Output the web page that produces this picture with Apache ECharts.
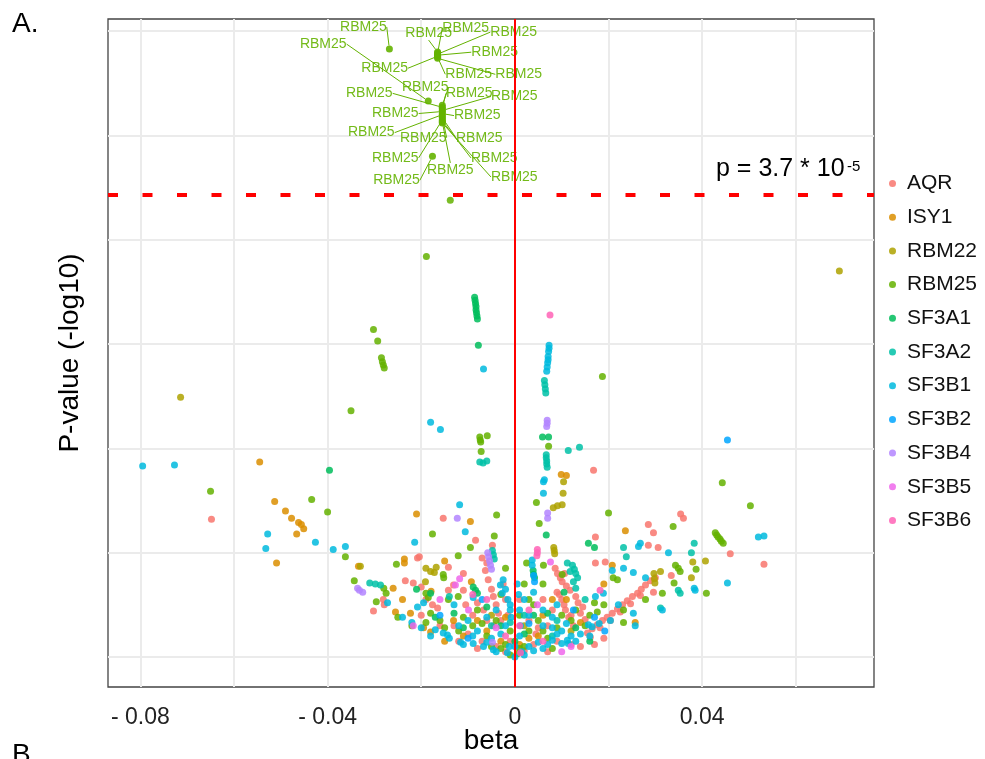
<!DOCTYPE html>
<html><head><meta charset="utf-8">
<script src="https://cdn.jsdelivr.net/npm/echarts@6/dist/echarts.min.js"></script>
<style>html,body{margin:0;padding:0;background:#fff}#chart{width:985px;height:759px}</style>
</head><body><div id="chart"></div>
<script>
// ---------- data ----------
const genes = ['AQR','ISY1','RBM22','RBM25','SF3A1','SF3A2','SF3B1','SF3B2','SF3B4','SF3B5','SF3B6'];
const xGridValues = [-0.08,-0.06,-0.04,-0.02,0,0.02,0.04,0.06];
const xTickValues = [-0.08,-0.04,0,0.04];
const yGridValues = [0,1,2,3,4,5,6];
const thresholdP = 3.7e-5;

const AQR = [[-0.0648,1.32],[0.0168,1.79],[0.0354,1.37],[0.0360,1.33],[0.0460,0.99],[0.0532,0.89],[0.0334,0.78],[0.0285,1.27],[0.0296,1.19],[0.0285,1.07],[0.0306,1.05],[0.0172,1.15],
[-0.0153,1.33],[-0.0084,1.12],[-0.0048,1.07],[-0.0208,0.95],[-0.0204,0.96],[-0.0142,0.86],[-0.0234,0.73],[-0.0217,0.71],[-0.0200,0.67],[-0.0302,0.44],[-0.0281,0.55],[-0.0279,0.50],[-0.0142,0.64],[-0.0131,0.69],[-0.0110,0.64],
[-0.0063,0.83],[-0.0057,0.74],[-0.0050,0.65],[-0.0046,0.58],[-0.0040,0.50],[-0.0035,0.42],[-0.0030,0.35],[-0.0067,0.45],[-0.0080,0.52],[-0.0090,0.40],
[-0.0190,0.55],[-0.0176,0.50],[-0.0165,0.47],
[0.0086,0.85],[0.0091,0.80],[0.0097,0.76],[0.0101,0.72],[0.0172,0.90],[0.0193,0.91],
[0.0155,0.23],[0.0165,0.27],[0.0176,0.31],[0.0187,0.35],[0.0197,0.38],[0.0208,0.42],[0.0219,0.46],[0.0230,0.50],[0.0240,0.54],[0.0251,0.58],[0.0262,0.61],[0.0270,0.65],[0.0279,0.69],[0.0289,0.73],[0.0300,0.76],
[0.0161,0.19],[0.0182,0.28],[0.0204,0.35],[0.0225,0.43],[0.0247,0.51],[0.0268,0.59],[0.0296,0.62],
[0.0060,0.55],[0.0080,0.45],[0.0105,0.50],[0.0120,0.40],[0.0070,0.30],[0.0045,0.22],[0.0090,0.62],[0.0110,0.68],[0.0130,0.58],[0.0145,0.48],
[-0.0130,0.30],[-0.0100,0.22],[-0.0070,0.15],[-0.0040,0.10],[-0.0020,0.05],[0.0020,0.06],[0.0040,0.12],
[0.0106,0.80],[0.0118,0.64],[0.0095,0.60],[0.0100,0.55],[0.0108,0.45],[0.0115,0.38],[0.0125,0.30],[0.0135,0.52],[0.0140,0.42],[0.0150,0.36],
[-0.0070,0.95],[-0.0060,0.90],[-0.0025,0.70],[-0.0020,0.55],[-0.0015,0.40],[-0.0045,0.30],[-0.0110,0.80],[-0.0105,0.50],
[-0.0160,0.30],[-0.0120,0.15],[-0.0080,0.08],[-0.0060,0.35],[-0.0010,0.15],[0.0010,0.55],[0.0030,0.35],[0.0050,0.28],[0.0070,0.05],[0.0090,0.15],[0.0120,0.12],[0.0140,0.10],[0.0170,0.12],[0.0190,0.18],[-0.0200,0.40]];

const ISY1 = [[-0.0545,1.87],[-0.0513,1.49],[-0.0490,1.40],[-0.0477,1.33],[-0.0462,1.29],[-0.0456,1.27],[-0.0451,1.23],[-0.0466,1.18],[-0.0509,0.90],[-0.0334,0.87],
[-0.0210,1.37],[-0.0095,1.30],[-0.0236,0.94],[-0.0236,0.90],[-0.0150,0.92],[-0.0255,0.43],[-0.0223,0.42],[-0.0195,0.28],[-0.0180,0.24],[-0.0093,0.72],[-0.0260,0.66],
[0.0236,1.21],[0.0208,0.88],[0.0257,0.33],[0.0099,1.75],[0.0110,1.74],
[-0.0131,0.35],[-0.0110,0.20],[-0.0060,0.25],[-0.0030,0.15],[0.0030,0.18],[0.0060,0.40],[0.0140,0.33],[0.0190,0.70],[-0.0179,0.63],
[-0.0150,0.15],[-0.0080,0.35],[-0.0020,0.38],[0.0010,0.12],[0.0050,0.20],[0.0080,0.55],[0.0110,0.55],[-0.0240,0.55]];

const RBM22 = [[0.0693,3.70],[-0.0714,2.49],[-0.0330,0.87],[-0.0190,0.85],[-0.0180,0.82],[-0.0168,0.86],[-0.0172,0.81],[-0.0191,0.72],[0.0104,1.68],[0.0103,1.57],[0.0082,1.43],[0.0091,1.45],[0.0101,1.46],[0.0083,1.05],[0.0084,1.02],[0.0085,0.99],[0.0297,0.80],[0.0298,0.75],[0.0299,0.71],[0.0380,0.91],[0.0407,0.92],[0.0377,0.76],[0.0311,0.82],[-0.0050,0.40],[0.0020,0.30],[0.0120,0.25]];

const RBM25 = [[-0.0138,4.38],[-0.0189,3.84],[-0.0302,3.14],[-0.0293,3.03],[-0.0285,2.87],[-0.0283,2.83],[-0.0281,2.80],[-0.0279,2.77],[-0.0350,2.36],
[-0.0075,2.11],[-0.0074,2.08],[-0.0073,2.06],[-0.0059,2.12],[-0.0072,1.97],[0.0072,2.02],[0.0187,2.69],
[-0.0650,1.59],[-0.0434,1.51],[-0.0400,1.39],[-0.0362,0.96],[-0.0343,0.73],
[-0.0039,1.36],[-0.0176,1.18],[-0.0044,1.16],[-0.0095,1.05],[-0.0121,0.97],[-0.0253,0.89],[-0.0153,0.79],[-0.0152,0.76],[-0.0280,0.66],[-0.0275,0.61],[-0.0190,0.61],[-0.0185,0.57],[-0.0296,0.53],[-0.0142,0.55],[-0.0121,0.58],
[0.0046,1.48],[0.0052,1.28],[0.0200,1.38],[0.0338,1.25],[0.0443,1.67],[0.0503,1.45],
[0.0428,1.19],[0.0431,1.17],[0.0434,1.15],[0.0438,1.13],[0.0441,1.11],[0.0445,1.09],
[0.0343,0.88],[0.0349,0.85],[0.0353,0.82],[0.0387,0.84],[0.0340,0.71],[0.0409,0.61],[0.0315,0.61],
[0.0061,0.88],[0.0101,0.79],[0.0210,0.76],[0.0219,0.74],[0.0279,0.55],[0.0232,0.45],[0.0232,0.33],[0.0176,0.43],
[-0.0220,0.30],[-0.0190,0.33],[-0.0160,0.35],[-0.0120,0.25],[-0.0090,0.30],[-0.0060,0.20],[-0.0040,0.35],[-0.0020,0.12],[0.0010,0.08],[0.0030,0.25],[0.0050,0.35],[0.0070,0.18],[0.0090,0.28],[0.0120,0.35],[0.0150,0.30],[0.0170,0.52],[0.0040,0.50],[-0.0080,0.45],[-0.0250,0.38],[-0.0030,0.60],[0.0020,0.70],[0.0060,0.70],
[-0.0010,0.02],[0.0005,0.03],[0.0020,0.10],[-0.0030,0.08],
[-0.0180,0.42],[-0.0150,0.28],[-0.0110,0.38],[-0.0070,0.32],[-0.0050,0.10],[-0.0010,0.25],[0.0010,0.40],[0.0030,0.55],[0.0060,0.25],[0.0080,0.08],[0.0100,0.40],[0.0130,0.45],[0.0160,0.40],[0.0190,0.50],[-0.0020,0.85],[0.0025,0.90]];

// RBM25 points above the significance line (labelled)
const RBM25sig = [[-0.0268,5.83],
[-0.0165,5.80],[-0.0165,5.79],[-0.0165,5.78],[-0.0165,5.77],[-0.0165,5.76],[-0.0165,5.75],[-0.0165,5.74],
[-0.0185,5.33],
[-0.0155,5.29],[-0.0155,5.27],[-0.0155,5.26],[-0.0155,5.24],[-0.0155,5.23],[-0.0155,5.21],[-0.0155,5.20],[-0.0155,5.18],[-0.0155,5.17],[-0.0155,5.15],[-0.0155,5.14],[-0.0155,5.13],[-0.0155,5.12],
[-0.0176,4.80]];

const SF3A1 = [[-0.0086,3.45],[-0.0085,3.42],[-0.0084,3.39],[-0.0083,3.36],[-0.0083,3.33],[-0.0082,3.30],[-0.0081,3.27],[-0.0080,3.24],
[-0.0078,2.99],[0.0059,2.11],[0.0072,2.11],[-0.0396,1.79],[0.0067,1.17],[0.0157,1.09],[0.0170,1.05],[-0.0180,0.61],[-0.0089,0.67],[-0.0084,0.64],[-0.0080,0.61],[0.0039,0.83],[0.0040,0.79],[0.0042,0.76],
[-0.0030,0.30],[0.0000,0.15],[0.0040,0.40],[0.0105,0.62],[-0.0130,0.42],[0.0160,0.15],
[-0.0170,0.38],[-0.0110,0.28],[-0.0060,0.48],[0.0020,0.22],[0.0070,0.42],[0.0130,0.28],[-0.0210,0.65]];

const SF3A2 = [[-0.0075,1.87],[-0.0068,1.86],[-0.0060,1.88],
[0.0067,1.94],[0.0067,1.91],[0.0068,1.88],[0.0068,1.85],[0.0069,1.82],
[0.0063,2.65],[0.0064,2.61],[0.0065,2.57],[0.0066,2.53],
[0.0114,1.98],[0.0138,2.01],[0.0383,1.09],[0.0377,1.00],[0.0349,0.64],[0.0353,0.61],[0.0232,1.05],[0.0238,0.96],
[-0.0310,0.71],[-0.0298,0.70],[-0.0287,0.69],[-0.0048,1.02],[-0.0046,0.98],[-0.0044,0.94],
[0.0123,0.88],[0.0127,0.84],[0.0130,0.80],[0.0134,0.76],[0.0311,0.47],
[0.0112,0.90],[0.0118,0.82],[0.0125,0.72],[0.0130,0.66],[0.0020,0.40],[-0.0050,0.30],[0.0080,0.20],
[-0.0140,0.58],[-0.0010,0.33],[0.0090,0.35],[0.0150,0.55]];

const SF3B1 = [[-0.0795,1.83],[-0.0727,1.84],[-0.0180,2.25],[-0.0159,2.18],[-0.0067,2.76],
[0.0073,2.99],[0.0073,2.96],[0.0072,2.93],[0.0071,2.88],[0.0071,2.85],[0.0070,2.82],[0.0069,2.78],[0.0068,2.74],
[0.0063,1.70],[0.0061,1.68],[0.0061,1.57],
[-0.0528,1.18],[-0.0532,1.04],[-0.0426,1.10],[-0.0388,1.03],[-0.0362,1.06],
[-0.0118,1.46],[-0.0106,1.20],[-0.0214,1.10],[-0.0272,0.52],[-0.0240,0.38],[-0.0208,0.48],[-0.0195,0.52],
[0.0520,1.15],[0.0532,1.16],[0.0328,1.00],[0.0454,0.71],[0.0383,0.66],[0.0385,0.64],[0.0268,1.09],[0.0264,1.06],[0.0315,0.45],
[0.0208,0.83],[0.0232,0.85],[0.0253,0.81],[0.0279,0.76],[0.0221,0.50],[0.0253,0.42],[0.0257,0.30],[0.0204,0.35],[0.0157,0.31],[0.0165,0.29],[0.0189,0.61],[0.0172,0.58],
[0.0037,0.93],[0.0037,0.88],[0.0112,0.16],[0.0114,0.13],[0.0080,0.28],[0.0090,0.22],[-0.0031,0.69],[-0.0027,0.61],[-0.0089,0.57],
[-0.0153,0.23],[-0.0144,0.21],[-0.0116,0.14],[-0.0089,0.13],[-0.0067,0.10],[-0.0046,0.07],[-0.0016,0.04],
[-0.0180,0.20],[-0.0120,0.30],[-0.0080,0.25],[-0.0050,0.18],[-0.0020,0.30],[0.0010,0.20],[0.0030,0.10],[0.0050,0.14],[0.0070,0.12],[0.0100,0.25],[0.0120,0.20],[0.0140,0.22],[-0.0010,0.50],[0.0020,0.55],[-0.0040,0.45],[0.0060,0.45],[0.0040,0.62],[0.0080,0.38],
[-0.0025,0.74],[-0.0020,0.65],[-0.0015,0.55],[-0.0010,0.45],[-0.0008,0.38],[0.0005,0.70],[0.0008,0.60],[0.0010,0.45],[0.0012,0.30],[0.0000,0.00],[0.0015,0.05],[-0.0012,0.10],
[-0.0220,0.33],[-0.0200,0.28],[-0.0170,0.26],[-0.0140,0.18],[-0.0110,0.12],[-0.0090,0.20],[-0.0060,0.14],[-0.0040,0.05],[-0.0030,0.22],[0.0000,0.10],[0.0020,0.02],[0.0040,0.06],[0.0060,0.08],[0.0080,0.16],[0.0100,0.13],[0.0130,0.15],[0.0160,0.20],[0.0180,0.32],[0.0060,0.30],[0.0030,0.40],[-0.0060,0.38],[-0.0100,0.35],[-0.0130,0.50],[0.0090,0.50],[0.0110,0.32]];

const SF3B2 = [[0.0454,2.08],[-0.0100,0.18],[0.0030,0.32],[0.0125,0.45],[-0.0160,0.40],[0.0192,0.25],[0.0040,0.78],[0.0042,0.72],[-0.0070,0.55],[0.0170,0.38]];

const SF3B4 = [[0.0069,2.27],[0.0069,2.24],[0.0068,2.21],[-0.0123,1.33],[-0.0058,1.00],[-0.0056,0.96],[-0.0054,0.92],[-0.0052,0.88],[-0.0050,0.84],[-0.0336,0.66],[-0.0332,0.64],[-0.0325,0.62],[0.0070,1.38],[0.0070,1.33],[-0.0048,0.14]];

const SF3B5 = [[-0.0118,0.75],[-0.0127,0.69],[-0.0099,0.45],[-0.0217,0.30],[0.0076,0.91],[0.0048,0.50],[0.0120,0.10],[-0.0040,0.28],[0.0100,0.05],[-0.0160,0.55]];

const SF3B6 = [[0.0075,3.28],[0.0048,1.03],[0.0048,1.00],[0.0047,0.97],[0.0012,0.04],[-0.0020,0.20],[0.0030,0.45],[0.0182,0.64],[0.0010,0.30],[-0.0060,0.55],[-0.0090,0.60],[0.0060,0.15]];

// ---------- styling / layout ----------
const geneColors = ['#F8766D','#DB8E00','#AEA200','#64B200','#00BD5C','#00C1A7','#00BADE','#00A6FF','#B385FF','#EF67EB','#FF63B6'];
// pixel offsets of each RBM25 label from its point (repelled labels)
const labelOffsets = [[-26,-22],
[-9,-19],[28,-25],[76,-22],[57,-3],[-53,12],[31,17],[81,16],
[-105,-57],
[-17,-18],[-73,-14],[27,-15],[72,-14],[-47,2],[35,2],[-71,18],[-19,21],[37,20],[-47,38],[52,37],[8,48],[72,54],
[-36,24]];

const geneData = {AQR, ISY1, RBM22, RBM25, SF3A1, SF3A2, SF3B1, SF3B2, SF3B4, SF3B5, SF3B6};
const FONT = '"Liberation Sans", Arial, Helvetica, sans-serif';
const threshold = -Math.log10(thresholdP);

const series = genes.map((g, i) => ({
  type: 'scatter', name: g, data: geneData[g], symbolSize: 7,
  itemStyle: { color: geneColors[i], opacity: 0.85 }, z: 2
}));
series.push({
  type: 'scatter', name: 'RBM25', data: RBM25sig, symbolSize: 7, z: 3,
  itemStyle: { color: geneColors[3], opacity: 0.9 },
  label: { show: true, formatter: 'RBM25', color: '#64B200', fontSize: 14, fontFamily: FONT },
  labelLine: { show: true, length2: 0, lineStyle: { color: '#64B200', width: 1 } },
  labelLayout: function (p) {
    const o = labelOffsets[p.dataIndex] || [0, -12];
    const cx = p.rect.x + p.rect.width / 2, cy = p.rect.y + p.rect.height / 2;
    return { x: cx + o[0], y: cy + o[1], align: 'center', verticalAlign: 'middle' };
  }
});
series.push({
  type: 'scatter', name: '_ref', data: [], z: 5, silent: true,
  markLine: { silent: true, symbol: 'none', animation: false, label: { show: false },
    data: [
      { xAxis: 0, lineStyle: { color: '#ff0000', width: 2, type: 'solid' } },
      { yAxis: threshold, lineStyle: { color: '#ff0000', width: 4, type: [10, 24.5] } }
    ] }
});

const chart = echarts.init(document.getElementById('chart'), null, { renderer: 'canvas' });
chart.setOption({
  animation: false,
  backgroundColor: '#ffffff',
  textStyle: { fontFamily: FONT },
  grid: { left: 108, right: 111, top: 19, bottom: 72, show: true, borderColor: '#444', borderWidth: 1.3,
    backgroundColor: 'transparent', containLabel: false, outerBoundsMode: 'none' },
  xAxis: {
    type: 'value', min: -0.0869, max: 0.0767,
    name: 'beta', nameLocation: 'middle', nameGap: 40, nameMoveOverlap: false,
    nameTextStyle: { fontSize: 28, color: '#000', fontFamily: FONT },
    axisLine: { show: false },
    axisTick: { show: false, customValues: xGridValues },
    axisLabel: { customValues: xTickValues, fontSize: 23, color: '#222', margin: 19, fontFamily: FONT,
      formatter: v => v === 0 ? '0' : (v < 0 ? '- ' + (-v).toFixed(2) : v.toFixed(2)) },
    splitLine: { show: true, lineStyle: { color: '#ebebeb', width: 2 } }
  },
  yAxis: {
    type: 'value', min: -0.288, max: 6.117,
    name: 'P-value (-log10)', nameLocation: 'middle', nameGap: 24, nameRotate: 90,
    nameTextStyle: { fontSize: 28, color: '#000', fontFamily: FONT },
    axisLine: { show: false },
    axisTick: { show: false, customValues: yGridValues },
    axisLabel: { show: false, customValues: yGridValues },
    splitLine: { show: true, lineStyle: { color: '#ebebeb', width: 2 } }
  },
  legend: {
    orient: 'vertical', left: 889, top: 173, padding: 0,
    data: genes, icon: 'circle', itemWidth: 7, itemHeight: 7, itemGap: 12.7,
    selectedMode: false,
    textStyle: { fontSize: 21, color: '#111', lineHeight: 21, padding: [0, 0, 0, 6], fontFamily: FONT }
  },
  graphic: [
    { type: 'text', left: 12, top: 10, style: { text: 'A.', fill: '#000', font: '28px ' + FONT } },
    { type: 'text', left: 12, top: 741, style: { text: 'B', fill: '#000', font: '28px ' + FONT } },
    { type: 'text', left: 716, top: 157, style: { text: 'p = 3.7 * 10', fill: '#000', font: '25px ' + FONT } },
    { type: 'text', left: 847, top: 159, style: { text: '-5', fill: '#000', font: '15px ' + FONT } }
  ],
  series: series
});
</script>
</body></html>
